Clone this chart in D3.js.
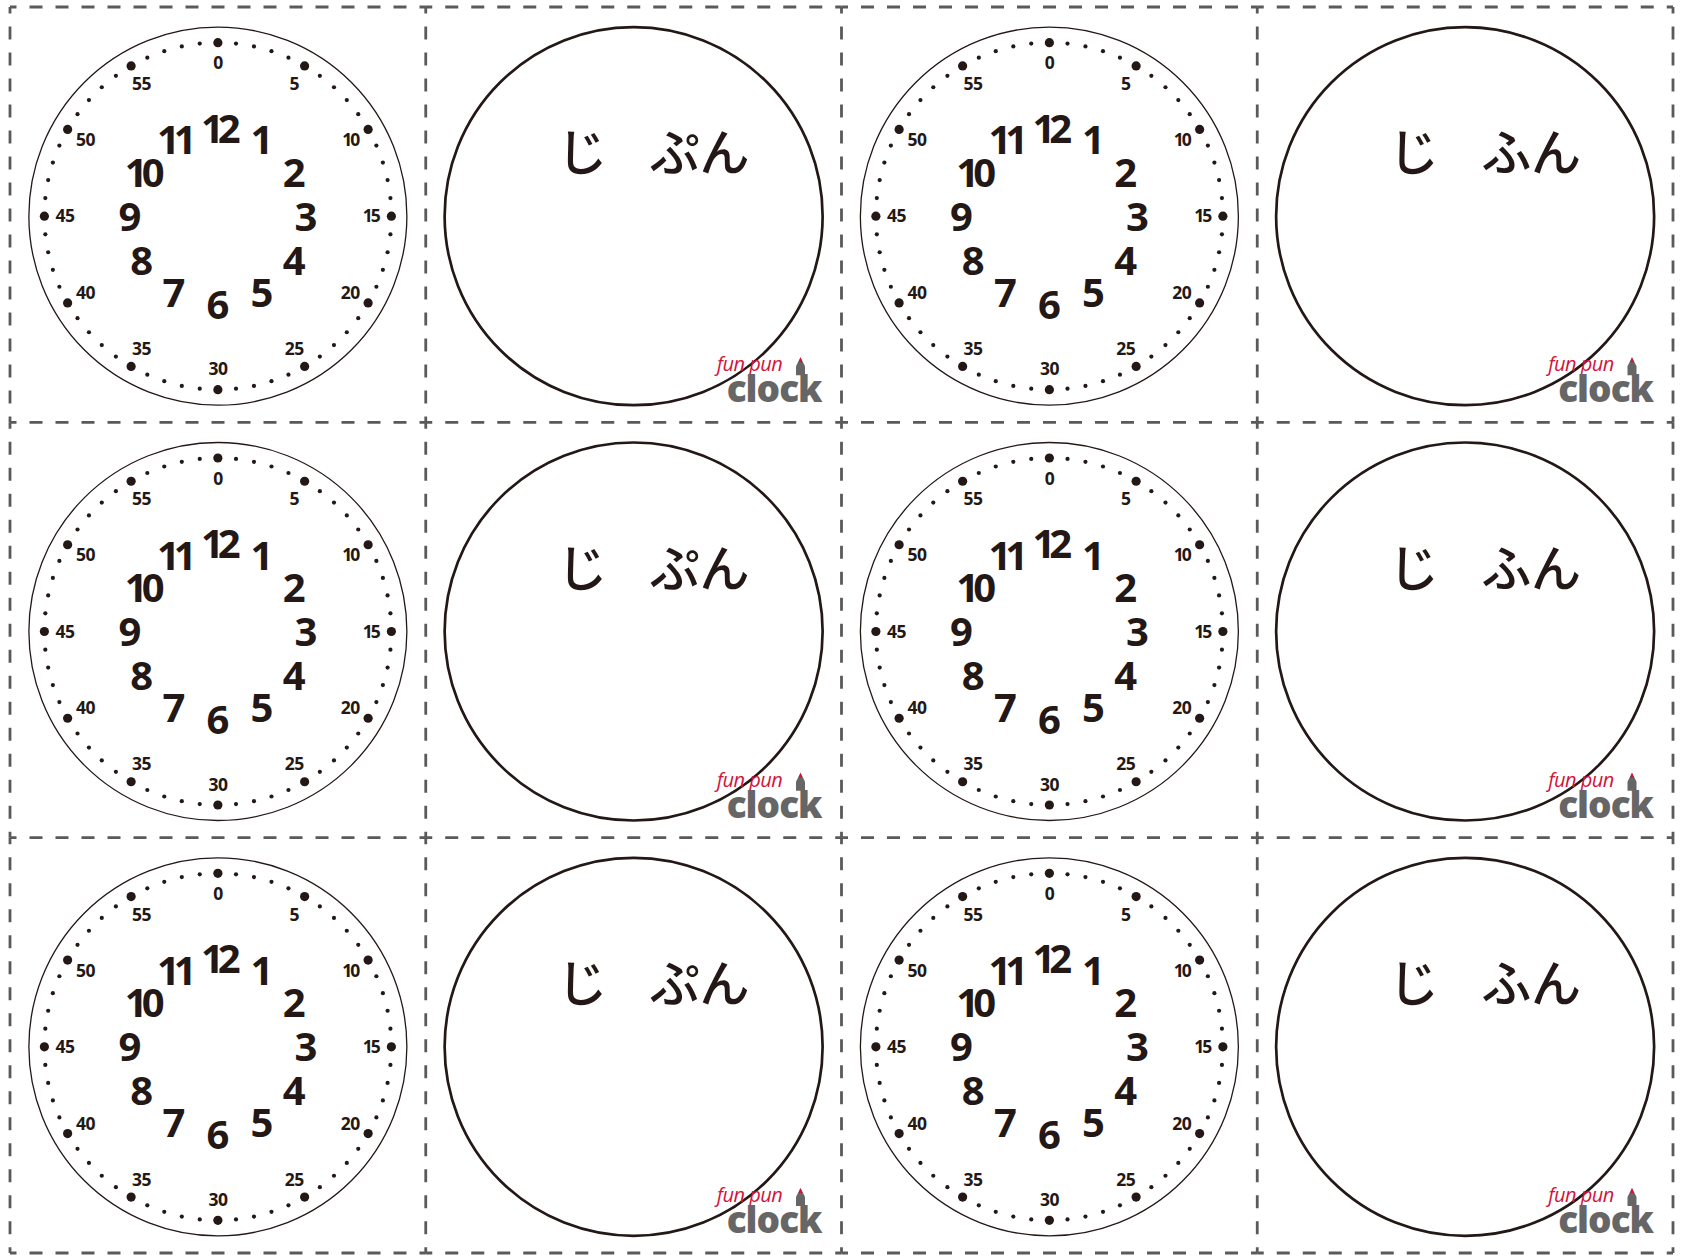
<!DOCTYPE html>
<html>
<head>
<meta charset="utf-8">
<script src="https://cdn.jsdelivr.net/npm/d3@7"></script>
<style>
  html, body { margin: 0; padding: 0; background: #fff; }
  svg { display: block; }
</style>
</head>
<body>
<svg id="chart" width="1686" height="1256"></svg>
<script>
// ---------- data ----------
const hourLabels = ["12","1","2","3","4","5","6","7","8","9","10","11"];
const minuteLabels = ["0","5","10","15","20","25","30","35","40","45","50","55"];
const minuteTicks = d3.range(60);
const gridCols = [0, 1, 2, 3];
const gridRows = [0, 1, 2];
const cellTypes = ["clock", "answer", "clock", "answer"];
const hourWord = ["じ", "じ", "じ", "じ"];
const minuteWord = ["", "ぷん", "", "ふん"];
const logoTop = "fun pun";
const logoBottom = "clock";

// ---------- layout ----------
const W = 1686, H = 1256;
const ink = "#231815";
const svg = d3.select("#chart");
svg.append("rect").attr("width", W).attr("height", H).attr("fill", "#fff");

const x = d3.scaleLinear().domain([0, 4]).range([10, 1673]);
const y = d3.scaleLinear().domain([0, 3]).range([7, 1253]);
const cellW = x(1) - x(0), cellH = y(1) - y(0);

const minuteAngle = d3.scaleLinear().domain([0, 60]).range([0, 2 * Math.PI]);
const hourAngle = d3.scaleLinear().domain([0, 12]).range([0, 2 * Math.PI]);
const polar = (r, a) => [r * Math.sin(a), -r * Math.cos(a)];

const R_FACE = 189, R_DOTS = 173.5, R_MIN = 153, R_HOUR = 88;

const cells = [];
gridRows.forEach(r => gridCols.forEach(c => cells.push({ r, c, type: cellTypes[c] })));

const cellG = svg.selectAll("g.cell").data(cells).join("g")
  .attr("class", "cell")
  .attr("transform", d => `translate(${x(d.c) + cellW / 2},${y(d.r) + cellH / 2 + 1.5})`);

// clock faces
const clocks = cellG.filter(d => d.type === "clock");
clocks.append("circle").attr("r", R_FACE).attr("fill", "#fff")
  .attr("stroke", ink).attr("stroke-width", 1.3);

clocks.selectAll("circle.tick").data(minuteTicks).join("circle")
  .attr("class", "tick")
  .attr("cx", m => polar(R_DOTS, minuteAngle(m))[0])
  .attr("cy", m => polar(R_DOTS, minuteAngle(m))[1])
  .attr("r", m => m % 5 === 0 ? 4.6 : 2.1)
  .attr("fill", ink);

clocks.selectAll("text.min").data(minuteLabels).join("text")
  .attr("class", "min")
  .attr("x", (t, i) => polar(R_MIN, minuteAngle(i * 5))[0])
  .attr("y", (t, i) => polar(R_MIN, minuteAngle(i * 5))[1])
  .attr("text-anchor", "middle")
  .attr("dy", "0.36em")
  .attr("font-family", "'Open Sans', sans-serif")
  .attr("font-weight", 700)
  .attr("font-size", 17.5)
  .attr("letter-spacing", t => t.length > 1 && t[0] === "1" ? -2 : -0.5)
  .attr("fill", ink)
  .text(t => t);

clocks.selectAll("text.hour").data(hourLabels).join("text")
  .attr("class", "hour")
  .attr("x", (t, i) => polar(R_HOUR, hourAngle(i))[0])
  .attr("y", (t, i) => polar(R_HOUR, hourAngle(i))[1])
  .attr("text-anchor", "middle")
  .attr("dy", "0.36em")
  .attr("font-family", "'Open Sans', sans-serif")
  .attr("font-weight", 700)
  .attr("font-size", 40)
  .attr("letter-spacing", t => t.length > 1 ? -6 : 0)
  .attr("fill", ink)
  .text(t => t);

// answer circles
const answers = cellG.filter(d => d.type === "answer");
answers.append("circle").attr("r", R_FACE).attr("fill", "none")
  .attr("stroke", ink).attr("stroke-width", 2.7);

answers.append("text")
  .attr("x", -51.5).attr("y", -67)
  .attr("text-anchor", "middle").attr("dominant-baseline", "central")
  .attr("font-family", "'Noto Sans CJK JP', sans-serif")
  .attr("font-weight", 500)
  .attr("font-size", 50).attr("fill", ink)
  .text(d => hourWord[d.c]);

answers.append("text")
  .attr("x", 66).attr("y", -67)
  .attr("text-anchor", "middle").attr("dominant-baseline", "central")
  .attr("font-family", "'Noto Sans CJK JP', sans-serif")
  .attr("font-weight", 500)
  .attr("font-size", 50).attr("fill", ink)
  .text(d => minuteWord[d.c]);

// logo
const logo = answers.append("g")
  .attr("transform", `translate(${cellW / 2 - 20},${cellH / 2 - 21.5})`);
logo.append("text")
  .attr("x", -72).attr("y", -31)
  .attr("text-anchor", "middle")
  .attr("font-family", "'Open Sans', sans-serif")
  .attr("font-style", "italic")
  .attr("font-size", 20)
  .attr("letter-spacing", -0.5)
  .attr("fill", "#d2143a")
  .text(logoTop);
logo.append("path")
  .attr("d", "M-25.5,-27 L-25.5,-36 L-21,-45 L-16.5,-36 L-16.5,-27 Z")
  .attr("fill", "#666");
logo.append("path")
  .attr("d", "M-23,-40 L-21,-45 L-19,-40 Z")
  .attr("fill", "#d2143a");
logo.append("text")
  .attr("x", 0).attr("y", 0)
  .attr("text-anchor", "end")
  .attr("font-family", "'Open Sans', sans-serif")
  .attr("font-weight", 800)
  .attr("font-size", 37)
  .attr("letter-spacing", -1)
  .attr("fill", "#666")
  .text(logoBottom);

// dashed cut lines
const gridColor = "#5a5a5a";
const segs = [];
d3.range(5).forEach(c => d3.range(3).forEach(r => segs.push([x(c), y(r), x(c), y(r + 1)])));
d3.range(4).forEach(r => d3.range(4).forEach(c => segs.push([x(c), y(r), x(c + 1), y(r)])));
svg.append("g").selectAll("line").data(segs).join("line")
  .attr("x1", s => s[0]).attr("y1", s => s[1])
  .attr("x2", s => s[2]).attr("y2", s => s[3])
  .attr("stroke", gridColor)
  .attr("stroke-width", 2.8)
  .attr("stroke-dasharray", "13 13")
  .attr("stroke-dashoffset", 6.5);
</script>
</body>
</html>
